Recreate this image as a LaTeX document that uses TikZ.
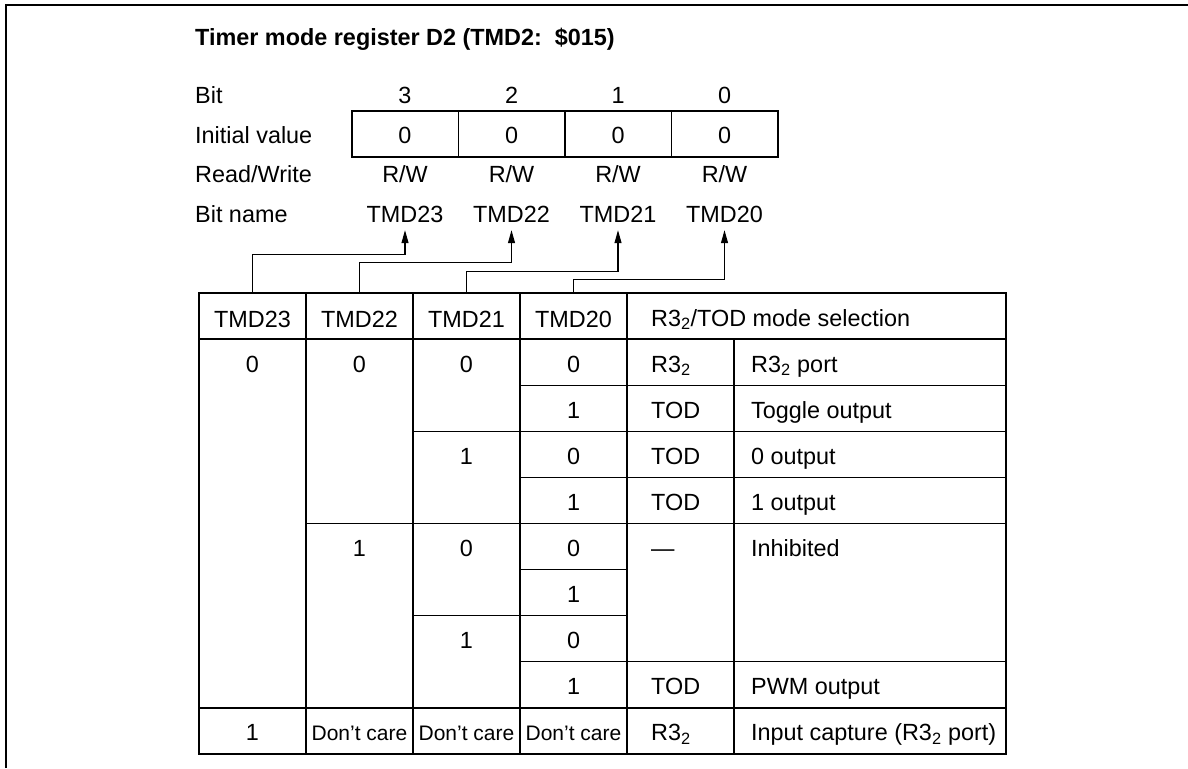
\documentclass[tikz,border=0pt]{standalone}
\usepackage{fontspec}
\setmainfont{Liberation Sans}
\usetikzlibrary{arrows.meta}
\begin{document}
\begin{tikzpicture}[x=1pt,y=-1pt,
	txt/.style={anchor=base,inner sep=0pt,font=\fontsize{23.4}{28}\selectfont},
	lft/.style={txt,anchor=base west},
	dc/.style={txt,font=\fontsize{21}{25}\selectfont},
	grid/.style={line width=1.3pt},
	hdr/.style={minimum width=107pt,minimum height=46pt,inner sep=0pt,text height=22pt,text depth=0pt,font=\fontsize{23.4}{28}\selectfont},
	bitname/.style={txt,inner ysep=8pt,text depth=0pt},
	tip/.style={-{Triangle[length=13pt,width=7pt]},line width=1.1pt}]
		\useasboundingbox (0,0) rectangle (1188,768);
		\draw[line width=1.7pt] (6,768) -- (6,5) -- (1188,5);
		\node[lft,font=\fontsize{23.4}{28}\selectfont\bfseries] (title) at (195,46) {Timer mode register D2 (TMD2:~~\$015)};
		\node[lft] (lbit) at (195,103) {Bit};
		\node[lft] (linit) at (195,143) {Initial value};
		\node[lft] (lrw) at (195,182) {Read/Write};
		\node[lft] (lname) at (195,222) {Bit name};
		\foreach \b/\x in {3/405,2/511.5,1/618,0/724.5}
		{
			\node[txt] at (\x,103) {\b};
			\node[txt] at (\x,143) {0};
			\node[txt] at (\x,182) {R/W};
			\node[bitname] (n\b) at (\x,222) {TMD2\b};
		}
		\draw[grid] (352,111) rectangle (778,157);
		\foreach \x in {458.5,565,671.5}
			\draw[grid] (\x,111) -- (\x,157);
		\foreach \b/\x in {3/252.5,2/359.5,1/466.5,0/573.5}
			\node[hdr] (h\b) at (\x,316) {TMD2\b};
		\node[lft] (hsel) at (651,326) {R3\textsubscript{2}/TOD mode selection};
		\foreach \b/\y in {3/255,2/263,1/272,0/280}
			\draw[tip] (h\b.north) -- ++(0,{\y-293}) -| (n\b.south);
		\draw[grid] (199,293) rectangle (1006,754);
		\foreach \x in {306,413,520,627}
			\draw[grid] (\x,293) -- (\x,754);
		\draw[grid] (734,339.1) -- (734,754);
		\draw[grid] (199,339.1) -- (1006,339.1);
		\draw[grid] (199,707.9) -- (1006,707.9);
		\foreach \i/\a/\b in {2/520/1006,3/413/1006,4/520/1006,5/306/1006,6/520/627,7/413/627,8/520/1006}
			\draw[grid] (\a,{293+\i*46.1}) -- (\b,{293+\i*46.1});
		\foreach \i/\v in {1/0,2/1,3/0,4/1,5/0,6/1,7/0,8/1}
			\node[txt] at (573.5,{326+\i*46.1}) {\v};
		\foreach \i/\v in {1/0,3/1,5/0,7/1}
			\node[txt] at (466.5,{326+\i*46.1}) {\v};
		\node[txt] at (359.5,{326+1*46.1}) {0};
		\node[txt] at (359.5,{326+5*46.1}) {1};
		\node[txt] at (252.5,{326+1*46.1}) {0};
		\node[txt] at (252.5,{326+9*46.1}) {1};
		\foreach \x in {359.5,466.5,573.5}
			\node[dc] at (\x,{326+9*46.1}) {Don't care};
		\foreach \i/\m/\t in {1/R3\textsubscript{2}/R3\textsubscript{2} port,2/TOD/Toggle output,3/TOD/0 output,4/TOD/1 output,5/---/Inhibited,8/TOD/PWM output,9/R3\textsubscript{2}/Input capture (R3\textsubscript{2} port)}
		{
			\node[lft] at (651,{326+\i*46.1}) {\m};
			\node[lft] at (751,{326+\i*46.1}) {\t};
		}
		\end{tikzpicture}
\end{document}
